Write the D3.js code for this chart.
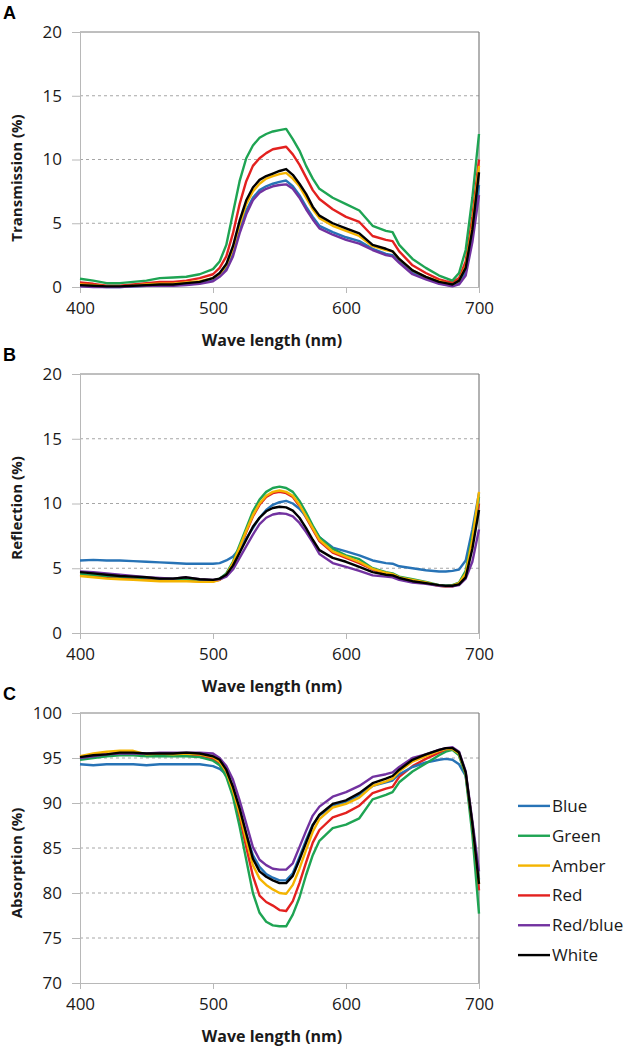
<!DOCTYPE html>
<html>
<head>
<meta charset="utf-8">
<script src="https://cdn.jsdelivr.net/npm/d3@7"></script>
<style>
  html, body { margin: 0; padding: 0; background: #fff; }
  svg { display: block; }
</style>
</head>
<body>
<svg id="chart" width="633" height="1053"></svg>
<script>
// ---------- DATA ----------
const wavelengths = [400,410,420,430,440,450,460,470,480,490,500,505,510,515,520,525,530,535,540,545,550,555,560,565,570,575,580,590,600,610,620,630,635,640,650,660,670,675,680,685,690,695,700];

const seriesNames = ["Blue", "Green", "Amber", "Red", "Red/blue", "White"];
const xTicks = [400, 500, 600, 700];
const yTicksTransmission = [0, 5, 10, 15, 20];
const yTicksReflection = [0, 5, 10, 15, 20];
const yTicksAbsorption = [70, 75, 80, 85, 90, 95, 100];

// Panel A: Transmission (%)
const transBlue    = [0.1,0.05,0,0,0.05,0.1,0.15,0.15,0.2,0.3,0.5,0.9,1.5,2.7,4.5,6.0,7.0,7.6,7.9,8.1,8.25,8.35,7.9,7.2,6.3,5.5,4.8,4.3,3.9,3.6,3.0,2.6,2.5,2.0,1.1,0.7,0.3,0.2,0.1,0.3,1.2,4.0,8.0];
const transGreen   = [0.65,0.5,0.3,0.3,0.4,0.5,0.7,0.75,0.8,1.0,1.4,2.0,3.3,5.8,8.3,10.1,11.1,11.7,12.0,12.2,12.3,12.4,11.6,10.7,9.5,8.5,7.7,7.0,6.5,6.0,4.8,4.4,4.3,3.3,2.2,1.5,0.9,0.7,0.5,1.1,2.9,7.0,12.0];
const transAmber   = [0.2,0.15,0.05,0.05,0.1,0.2,0.25,0.25,0.35,0.45,0.7,1.0,1.7,3.0,4.9,6.5,7.5,8.1,8.5,8.7,8.85,8.95,8.5,7.9,7.0,6.1,5.4,4.8,4.4,4.0,3.2,2.9,2.8,2.2,1.3,0.8,0.45,0.3,0.2,0.5,1.6,4.8,9.5];
const transRed     = [0.35,0.25,0.1,0.1,0.2,0.3,0.4,0.4,0.5,0.7,1.0,1.5,2.4,4.2,6.5,8.3,9.5,10.1,10.5,10.8,10.9,11.0,10.4,9.6,8.6,7.6,6.9,6.1,5.5,5.1,4.0,3.7,3.6,2.8,1.7,1.1,0.6,0.45,0.35,0.7,2.0,5.5,10.0];
const transRedBlue = [0.05,0,0,0,0.05,0.1,0.1,0.1,0.15,0.25,0.45,0.8,1.3,2.4,4.2,5.7,6.8,7.4,7.7,7.9,8.0,8.05,7.7,7.0,6.1,5.3,4.6,4.1,3.7,3.4,2.9,2.5,2.4,1.9,1.0,0.6,0.25,0.15,0.05,0.2,0.9,3.5,7.2];
const transWhite   = [0.15,0.1,0.05,0.05,0.1,0.15,0.2,0.2,0.3,0.4,0.7,1.1,1.8,3.2,5.2,6.8,7.8,8.4,8.7,8.9,9.1,9.25,8.8,8.1,7.3,6.3,5.6,5.0,4.6,4.2,3.3,3.0,2.8,2.2,1.3,0.8,0.4,0.3,0.2,0.5,1.5,4.5,9.0];

// Panel B: Reflection (%)
const reflBlue    = [5.6,5.65,5.6,5.6,5.55,5.5,5.45,5.4,5.35,5.35,5.35,5.4,5.6,5.9,6.5,7.3,8.1,8.9,9.5,9.9,10.1,10.2,10.0,9.6,9.0,8.2,7.4,6.6,6.3,6.0,5.6,5.4,5.35,5.15,5.0,4.85,4.75,4.75,4.8,4.9,5.6,8.0,10.8];
const reflGreen   = [4.55,4.5,4.4,4.35,4.3,4.25,4.2,4.2,4.15,4.1,4.05,4.2,4.6,5.5,6.8,8.1,9.4,10.3,10.9,11.2,11.3,11.2,10.9,10.2,9.3,8.3,7.4,6.5,6.0,5.7,5.0,4.7,4.6,4.35,4.15,3.95,3.7,3.65,3.7,3.9,4.8,7.5,10.5];
const reflAmber   = [4.4,4.3,4.2,4.15,4.1,4.05,4.0,4.0,4.0,3.95,3.95,4.1,4.5,5.4,6.6,7.9,9.1,10.0,10.6,10.9,11.0,10.9,10.6,9.9,9.0,8.1,7.2,6.3,5.9,5.5,4.95,4.65,4.55,4.3,4.1,3.9,3.65,3.6,3.65,3.85,4.6,7.2,10.9];
const reflRed     = [4.5,4.4,4.3,4.25,4.2,4.15,4.1,4.1,4.05,4.0,4.0,4.1,4.5,5.3,6.5,7.8,9.0,9.9,10.5,10.8,10.9,10.8,10.5,9.8,8.9,8.0,7.1,6.2,5.8,5.4,4.9,4.6,4.5,4.25,4.05,3.85,3.65,3.6,3.6,3.8,4.4,6.8,10.0];
const reflRedBlue = [4.75,4.7,4.6,4.5,4.4,4.3,4.25,4.2,4.3,4.15,4.1,4.15,4.35,4.9,5.8,6.7,7.6,8.4,8.9,9.15,9.25,9.2,9.0,8.5,7.8,7.0,6.1,5.4,5.1,4.8,4.45,4.35,4.3,4.1,3.9,3.8,3.65,3.6,3.6,3.7,4.2,5.5,8.0];
const reflWhite   = [4.7,4.6,4.5,4.4,4.35,4.3,4.2,4.2,4.3,4.15,4.1,4.2,4.5,5.2,6.2,7.2,8.2,8.9,9.4,9.65,9.75,9.7,9.45,8.9,8.1,7.2,6.4,5.8,5.5,5.1,4.7,4.5,4.45,4.25,4.0,3.85,3.7,3.65,3.65,3.75,4.3,6.5,9.5];

// Panel C: Absorption (%)
const absBlue    = [94.3,94.2,94.3,94.3,94.3,94.2,94.3,94.3,94.3,94.3,94.1,93.8,93.2,91.5,89.2,86.5,84.2,82.9,82.1,81.7,81.4,81.4,82.2,84.0,85.9,87.6,88.6,89.7,90.1,90.9,91.9,92.3,92.5,93.2,94.0,94.5,94.8,94.9,94.8,94.3,93.0,87.7,81.5];
const absGreen   = [94.8,95.0,95.2,95.3,95.3,95.2,95.2,95.2,95.2,95.1,94.7,94.2,92.9,90.7,87.4,83.7,80.0,77.8,76.8,76.4,76.3,76.3,77.6,79.5,82.0,84.2,85.8,87.2,87.6,88.3,90.4,90.9,91.2,92.3,93.5,94.4,95.3,95.7,95.9,95.3,93.0,86.5,77.7];
const absAmber   = [95.2,95.5,95.7,95.8,95.8,95.4,95.5,95.4,95.5,95.4,95.1,94.6,93.5,91.4,88.9,85.9,83.1,81.6,80.9,80.4,80.0,79.9,80.9,82.7,84.8,86.8,88.2,89.5,89.9,90.6,91.9,92.4,92.7,93.5,94.6,95.2,95.8,96.0,96.0,95.5,93.3,87.7,81.0];
const absRed     = [95.0,95.3,95.4,95.5,95.5,95.3,95.4,95.3,95.4,95.3,94.9,94.3,93.2,91.0,88.4,85.1,81.9,79.7,79.0,78.6,78.1,78.0,79.1,81.1,83.4,85.6,87.0,88.4,88.9,89.7,91.1,91.6,91.8,92.9,94.1,94.9,95.6,95.9,96.0,95.4,93.2,87.5,80.3];
const absRedBlue = [95.0,95.2,95.4,95.5,95.5,95.5,95.6,95.6,95.6,95.6,95.5,95.0,94.1,92.6,90.3,87.7,85.1,83.7,83.1,82.7,82.6,82.6,83.3,85.1,86.9,88.6,89.6,90.7,91.2,91.9,92.9,93.2,93.4,94.0,95.0,95.4,95.9,96.1,96.2,95.7,93.5,88.0,82.4];
const absWhite   = [95.1,95.3,95.4,95.6,95.6,95.5,95.5,95.5,95.6,95.5,95.2,94.8,93.7,91.8,89.4,86.6,83.8,82.4,81.8,81.4,81.1,81.1,81.9,83.7,85.6,87.5,88.7,89.9,90.3,91.1,92.2,92.7,93.0,93.7,94.8,95.4,95.9,96.1,96.1,95.6,93.4,87.7,81.0];

// ---------- STYLE ----------
const colors = {
  "Blue": "#2773b6",
  "Green": "#1ea453",
  "Amber": "#f4b400",
  "Red": "#e3211f",
  "Red/blue": "#7232a0",
  "White": "#000000"
};
const drawOrder = ["Red", "Blue", "Green", "Amber", "Red/blue", "White"];
const tickFont = "'Open Sans', sans-serif";

const panels = [
  { letter: "A", title: "Transmission (%)", top: 32, bottom: 287, domain: [0, 20], ticks: yTicksTransmission, titleY: 178,
    series: { "Blue": transBlue, "Green": transGreen, "Amber": transAmber, "Red": transRed, "Red/blue": transRedBlue, "White": transWhite } },
  { letter: "B", title: "Reflection (%)", top: 374, bottom: 633, domain: [0, 20], ticks: yTicksReflection, titleY: 508,
    series: { "Blue": reflBlue, "Green": reflGreen, "Amber": reflAmber, "Red": reflRed, "Red/blue": reflRedBlue, "White": reflWhite } },
  { letter: "C", title: "Absorption (%)", top: 713, bottom: 983, domain: [70, 100], ticks: yTicksAbsorption, titleY: 863,
    series: { "Blue": absBlue, "Green": absGreen, "Amber": absAmber, "Red": absRed, "Red/blue": absRedBlue, "White": absWhite } }
];

const left = 80, right = 479;
const svg = d3.select("#chart");
const x = d3.scaleLinear().domain([400, 700]).range([left, right]);

panels.forEach(p => {
  const y = d3.scaleLinear().domain(p.domain).range([p.bottom, p.top]);
  const g = svg.append("g");

  // gridlines
  g.append("g").selectAll("line")
    .data(p.ticks.filter(t => t !== p.domain[0] && t !== p.domain[1]))
    .join("line")
    .attr("x1", left).attr("x2", right)
    .attr("y1", d => y(d)).attr("y2", d => y(d))
    .attr("stroke", "#a6a6a6").attr("stroke-width", 1)
    .attr("stroke-dasharray", "3,3");

  // top & right border
  g.append("line").attr("x1", left).attr("x2", right).attr("y1", p.top).attr("y2", p.top)
    .attr("stroke", "#7f7f7f").attr("stroke-width", 1);
  g.append("line").attr("x1", right).attr("x2", right).attr("y1", p.top).attr("y2", p.bottom)
    .attr("stroke", "#7f7f7f").attr("stroke-width", 1.2);

  // y axis
  const yAxis = g.append("g").attr("transform", `translate(${left},0)`)
    .call(d3.axisLeft(y).tickValues(p.ticks).tickSize(8).tickPadding(10).tickSizeOuter(0));
  yAxis.select(".domain").attr("stroke", "#b8b8b8");
  yAxis.selectAll(".tick line").attr("stroke", "#b8b8b8");
  yAxis.selectAll("text").attr("font-family", tickFont).attr("font-size", 17).attr("fill", "#1a1a1a");

  // x axis
  const xAxis = g.append("g").attr("transform", `translate(0,${p.bottom})`)
    .call(d3.axisBottom(x).tickValues(xTicks).tickSize(6).tickPadding(9).tickSizeOuter(0));
  xAxis.select(".domain").attr("stroke", "#b8b8b8");
  xAxis.selectAll(".tick line").attr("stroke", "#b8b8b8");
  xAxis.selectAll("text").attr("font-family", tickFont).attr("font-size", 17).attr("fill", "#1a1a1a");

  // lines
  const line = d3.line().x((d, i) => x(wavelengths[i])).y(d => y(d));
  drawOrder.forEach(name => {
    g.append("path")
      .datum(p.series[name])
      .attr("fill", "none")
      .attr("stroke", colors[name])
      .attr("stroke-width", 2.4)
      .attr("stroke-linejoin", "round")
      .attr("d", line);
  });

  // axis titles
  g.append("text")
    .attr("x", 272).attr("y", p.bottom + 59)
    .attr("text-anchor", "middle")
    .attr("font-family", tickFont).attr("font-weight", "bold").attr("font-size", 16)
    .attr("fill", "#1a1a1a")
    .text("Wave length (nm)");
  g.append("text")
    .attr("transform", `translate(22,${p.titleY}) rotate(-90)`)
    .attr("text-anchor", "middle")
    .attr("font-family", tickFont).attr("font-weight", "bold").attr("font-size", 15)
    .attr("fill", "#1a1a1a")
    .text(p.title);

  // panel letter
  g.append("text")
    .attr("x", 3).attr("y", p.top - 13)
    .attr("font-family", "'Liberation Sans', Arial, sans-serif").attr("font-weight", "bold").attr("font-size", 18)
    .attr("fill", "#000")
    .text(p.letter);
});

// legend
const legend = svg.append("g");
const legendY = d3.scaleBand().domain(seriesNames).range([791, 970]);
seriesNames.forEach(name => {
  const cy = legendY(name) + legendY.bandwidth() / 2;
  legend.append("line")
    .attr("x1", 518).attr("x2", 550).attr("y1", cy).attr("y2", cy)
    .attr("stroke", colors[name]).attr("stroke-width", 2.4);
  legend.append("text")
    .attr("x", 552).attr("y", cy).attr("dy", "0.35em")
    .attr("font-family", tickFont).attr("font-size", 17).attr("fill", "#1a1a1a")
    .text(name);
});
</script>
</body>
</html>
